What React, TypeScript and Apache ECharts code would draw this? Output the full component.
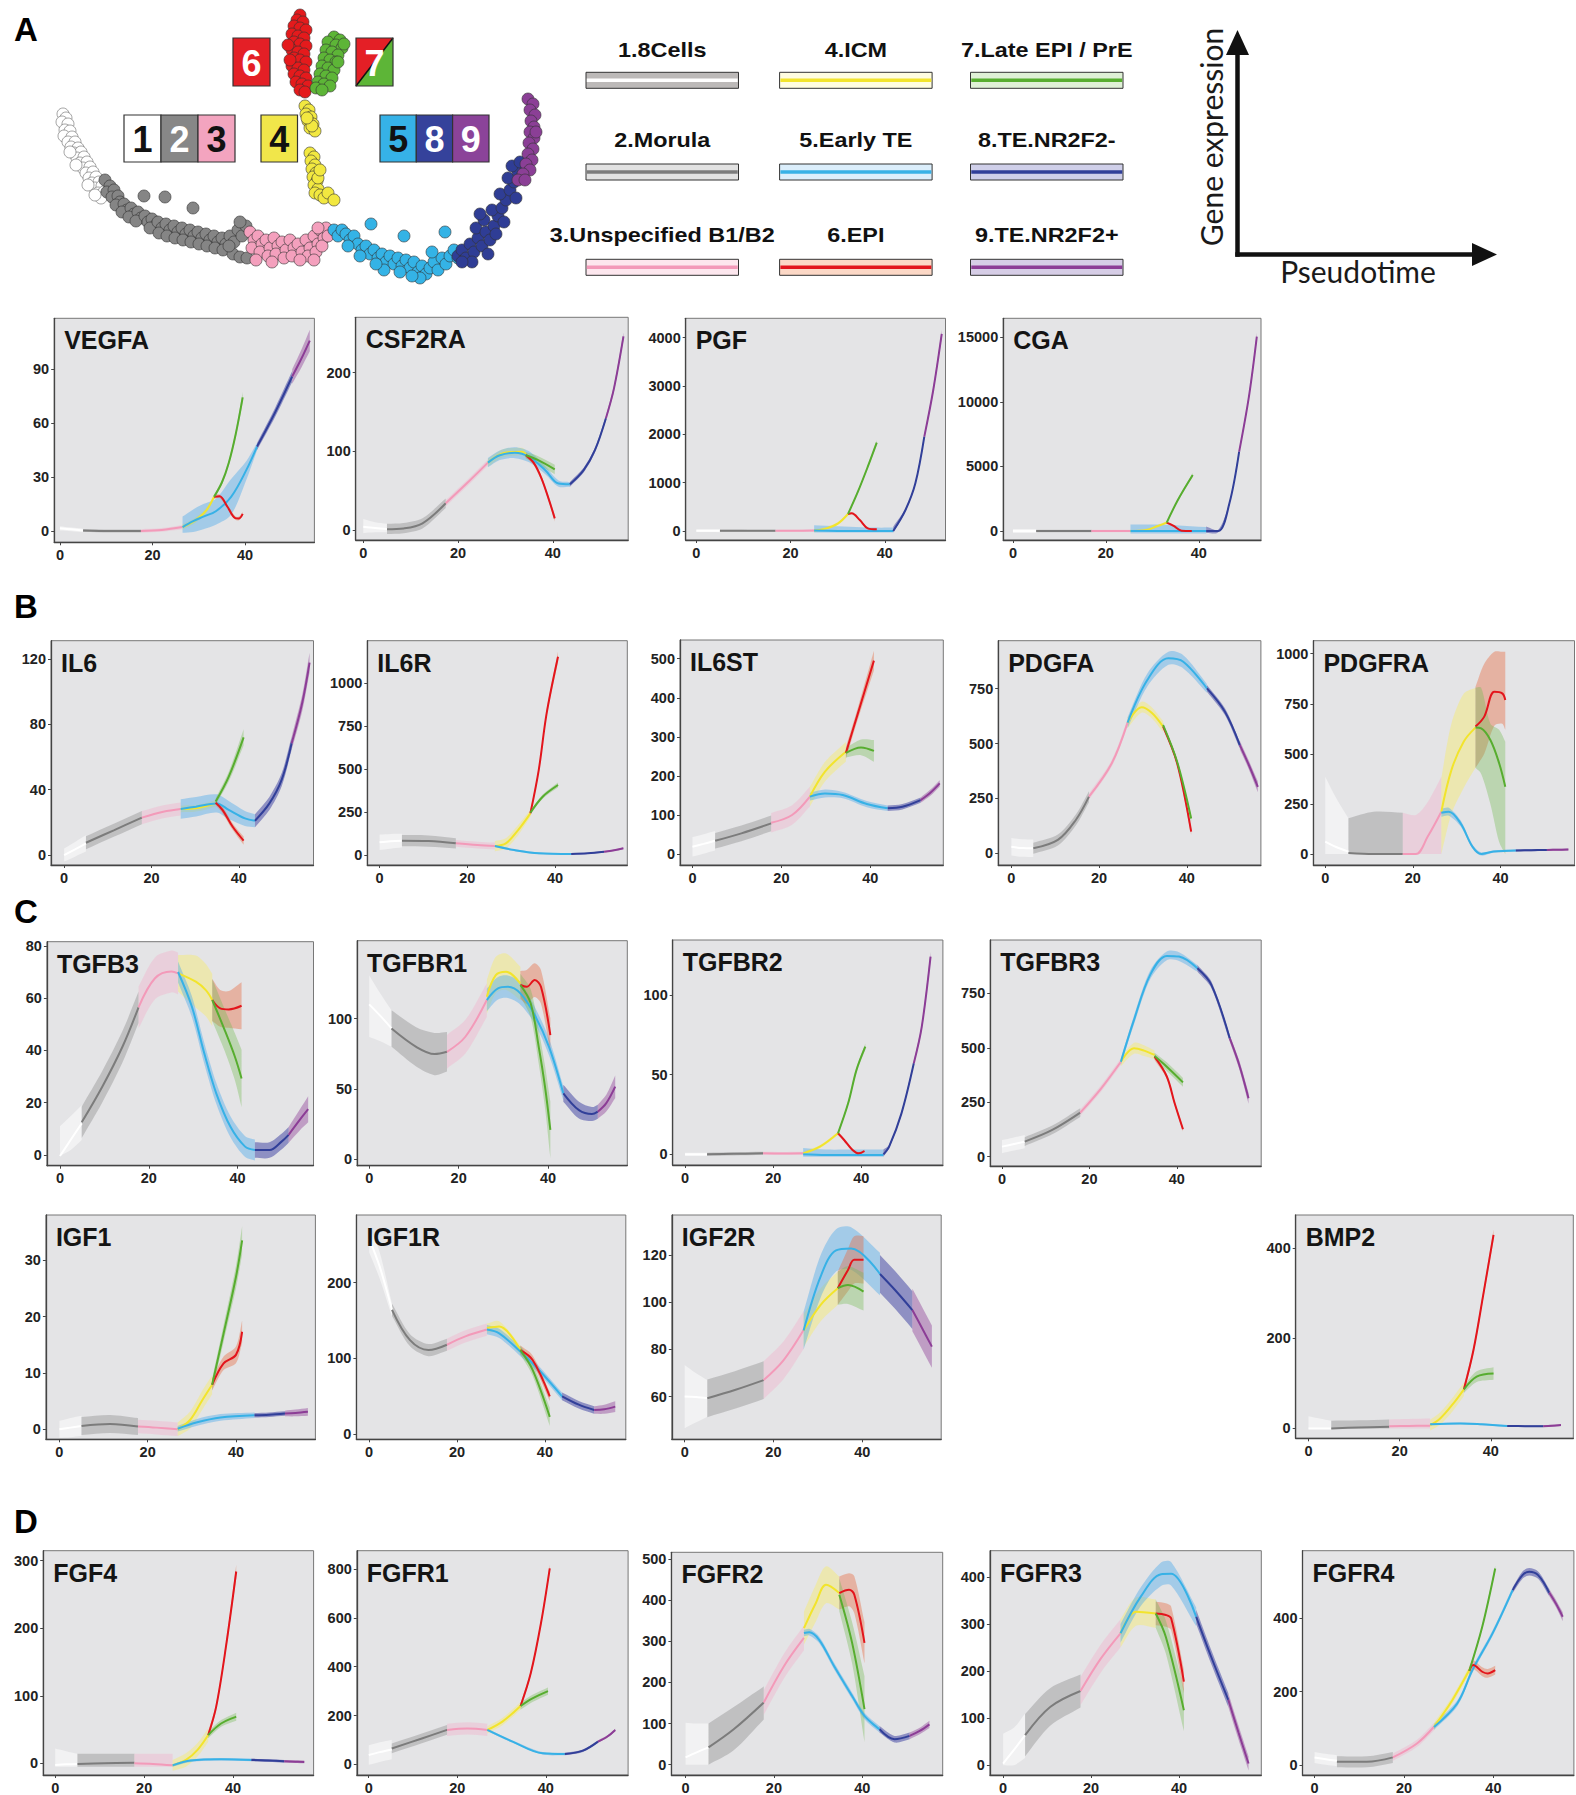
import { useEffect, useRef } from 'react';
import * as echarts from 'echarts';

// point: [pseudotime, fit, halfWidth] or [pseudotime, fit, lower, upper]
type Pt = number[];
type Seg = [number, Pt[]];

const LINEAGES = ['1.8Cells', '2.Morula', '3.Unspecified B1/B2', '4.ICM', '5.Early TE', '6.EPI', '7.Late EPI / PrE', '8.TE.NR2F2-', '9.TE.NR2F2+'];
const X_TICKS = [0, 20, 40];

// ---------------- gene data ----------------
const VEGFA_Y = [0, 30, 60, 90];
const VEGFA: Seg[] = [
  [1, [[0, 1.5, 1.2], [2.5, 0.9, 1], [5, 0.3, 1]]],
  [2, [[5, 0.3, 0.8], [11, 0, 0.8], [17.5, 0, 0.8]]],
  [3, [[17.5, 0, 1], [22, 0.6, 1], [26.5, 2.2, 1.2]]],
  [4, [[26.5, 2.2, 1.5], [29, 5.5, 1.5], [31.5, 11, 1.5], [33.3, 19, 1.5]]],
  [5, [[26.5, 2.2, -1, 8], [28.8, 5.5, -0.5, 12], [31, 8, 1, 15], [33.7, 11, 3.5, 18], [37, 19, 9, 29], [40.3, 34, 28.5, 39], [42.6, 47, 45, 49]]],
  [6, [[33.3, 19, 1], [34.5, 19.3, 1], [36.2, 13.5, 1], [37.9, 7.2, 1], [38.7, 7, 1], [39.5, 9.5, 1]]],
  [7, [[33.3, 19, 1], [35, 27, 1.2], [36.5, 38, 1.5], [38, 54, 2], [39.5, 74.4, 3]]],
  [8, [[42.6, 47, 2], [46.5, 66, 2.5], [50.2, 86, 3]]],
  [9, [[50.2, 86, 4], [52.2, 96, 5], [54, 106, 6]]],
];

const CSF2RA_Y = [0, 100, 200];
const CSF2RA: Seg[] = [
  [1, [[0, 4.2, -4, 14], [2.5, 2.5, -3, 10], [5, 1.3, -3, 8]]],
  [2, [[5, 1, -5, 8], [8.5, 2, -4, 9], [12.5, 8.5, 2, 15], [17.4, 34, 28, 40]]],
  [3, [[17.4, 34, 4], [21.8, 59, 4], [26.3, 85.6, 4]]],
  [4, [[26.3, 85.6, 5], [29.5, 97.5, 5], [33.5, 99.6, 5], [34.3, 96.6, 5]]],
  [5, [[26.3, 85.6, 6], [28.8, 95, 6], [32, 98.3, 7], [35, 93, 7], [38.4, 76, 5], [41.2, 59, 4], [43.6, 58, 3]]],
  [6, [[34.3, 95, 3], [36, 85, 3], [37.6, 65.7, 3], [39.2, 38, 3], [40.4, 14.8, 4]]],
  [7, [[34.3, 95, 4], [36.8, 89, 5], [40.4, 77, 6]]],
  [8, [[43.6, 58, 3], [46.5, 76, 3], [48.9, 101.7, 3], [51.2, 142, 3]]],
  [9, [[51.2, 142, 3], [52.9, 180, 4], [54.9, 246, 5]]],
];

const PGF_Y = [0, 1000, 2000, 3000, 4000];
const PGF: Seg[] = [
  [1, [[0, 7, 30], [5, 5, 30]]],
  [2, [[5, 5, 20], [11, 3, 20], [16.8, 3, 20]]],
  [3, [[16.8, 3, 20], [21, 5, 20], [25, 10, 25]]],
  [4, [[25, 10, 30], [27.6, 55, 30], [30.1, 159, 30], [32.2, 352, 30]]],
  [5, [[25, 10, -30, 120], [30, 2, -30, 100], [35, 0, -30, 80], [38, 0, -30, 70], [41.8, 0, -30, 70]]],
  [6, [[32.2, 352, 20], [33, 365, 20], [34.7, 228, 20], [36.4, 55, 20], [38.3, 34, 20]]],
  [7, [[32.2, 352, 20], [34.3, 814, 30], [36.4, 1331, 40], [38.3, 1828, 50]]],
  [8, [[41.8, 0, -30, 90], [44.4, 434, 30], [46.5, 986, 30], [48.4, 1952, 40]]],
  [9, [[48.4, 1952, 40], [50.3, 2917, 60], [52.1, 4076, 80]]],
];

const CGA_Y = [0, 5000, 10000, 15000];
const CGA: Seg[] = [
  [1, [[0, 0, 150], [5, 0, 150]]],
  [2, [[5, 0, 100], [11, 0, 100], [16.9, 0, 100]]],
  [3, [[16.9, 0, 100], [21, 0, 100], [25.3, 0, 100]]],
  [4, [[25.3, 0, 100], [28.7, 78, 100], [31.2, 388, 100], [33.1, 646, 100]]],
  [5, [[25.3, 0, -200, 500], [30, 0, -200, 500], [35, 0, -200, 450], [41.6, 0, -200, 300]]],
  [6, [[33.1, 646, 80], [34.6, 388, 80], [36.3, 26, 60], [38.5, 0, 50]]],
  [7, [[33.1, 646, 80], [35.5, 2403, 100], [38.7, 4341, 150]]],
  [8, [[41.6, 0, -150, 350], [44.2, 0, 100], [46.6, 2145, 100], [48.7, 6150, 150]]],
  [9, [[48.7, 6150, 150], [50.8, 10413, 200], [52.5, 15064, 300]]],
];

const IL6_Y = [0, 40, 80, 120];
const IL6: Seg[] = [
  [1, [[0, 0, 4], [2.5, 3.5, 4.5], [5, 7.1, 5]]],
  [2, [[5, 7.5, 4], [11.5, 15.3, 4], [17.8, 22.9, 4]]],
  [3, [[17.8, 22.9, 4], [22.7, 26.5, 4], [26.7, 28.2, 4]]],
  [4, [[26.7, 28.2, 2], [30.2, 28.6, 2], [34.7, 31.6, 2]]],
  [5, [[26.7, 28.2, 6], [30.2, 29.6, 6], [34.9, 31.6, 5.6], [37.7, 27.6, 5.5], [41.4, 22.4, 4.6], [43.7, 21, 4]]],
  [6, [[34.7, 32, 1.5], [36.3, 27.5, 2], [38.6, 17.3, 2], [41.1, 8.8, 2.5]]],
  [7, [[34.7, 32.7, 2], [37.7, 48, 3], [41.1, 72, 5]]],
  [8, [[43.7, 21, 4], [47, 31.6, 4], [49.8, 46, 4], [52.1, 68.4, 4]]],
  [9, [[52.1, 68.4, 4], [54.5, 92.9, 5], [56.2, 117.8, 6]]],
];

const IL6R_Y = [0, 250, 500, 750, 1000];
const IL6R: Seg[] = [
  [1, [[0, 74, 45], [2.5, 80, 43], [5.1, 83.5, 40]]],
  [2, [[5.1, 83.5, 33], [11.2, 81.5, 33], [17.4, 68, 30]]],
  [3, [[17.4, 68, 20], [22.3, 58, 20], [26.3, 52.4, 20]]],
  [4, [[26.3, 52.4, 30], [28.8, 68, 30], [31.6, 145.6, 30], [34.4, 243, 20]]],
  [5, [[26.3, 52.4, 6], [30.7, 29, 6], [36.3, 10, 5], [43.7, 6, 4]]],
  [6, [[34.4, 243, 15], [36.3, 495, 15], [38.1, 825, 20], [40.7, 1155, 30]]],
  [7, [[34.4, 247, 10], [37.2, 340, 12], [40.7, 408, 15]]],
  [8, [[43.7, 6, 4], [47.5, 10, 4], [51.2, 19, 4]]],
  [9, [[51.2, 19, 4], [53.5, 28, 4], [55.6, 39, 5]]],
];

const IL6ST_Y = [0, 100, 200, 300, 400, 500];
const IL6ST: Seg[] = [
  [1, [[0, 18.8, 25], [2.5, 26, 25], [5.1, 34, 25]]],
  [2, [[5.1, 34, 20], [11, 53, 20], [17.7, 78.5, 20]]],
  [3, [[17.7, 80, 25], [22.4, 100, 25], [26.4, 147, 25]]],
  [4, [[26.4, 147, 25], [29.8, 211, 25], [34.5, 262, 25]]],
  [5, [[26.4, 147, 10], [29.8, 155, 10], [33.8, 151, 8], [39.2, 128, 8], [43.9, 117, 7]]],
  [6, [[34.5, 259, 15], [37.2, 360, 15], [40.8, 495, 25]]],
  [7, [[34.5, 259, 12], [37.9, 273, 20], [40.8, 264, 28]]],
  [8, [[43.9, 117, 7], [47.2, 121, 7], [51.3, 138, 7]]],
  [9, [[51.3, 138, 7], [53.5, 157, 8], [55.6, 181, 8]]],
];

const PDGFA_Y = [0, 250, 500, 750];
const PDGFA: Seg[] = [
  [1, [[0, 30, 40], [2.5, 24, 40], [5, 23, 40]]],
  [2, [[5, 23, 25], [10.6, 61, 25], [14.7, 152, 25], [17.7, 258, 25]]],
  [3, [[17.7, 258, 15], [22.9, 410, 15], [26.5, 595, 15]]],
  [4, [[26.5, 595, 25], [29.7, 665, 25], [32, 640, 25], [34.6, 577, 25]]],
  [5, [[26.5, 595, 25], [31, 789, 30], [35.8, 888, 30], [39.2, 872, 30], [44.6, 751, 20]]],
  [6, [[34.6, 577, 10], [37.8, 410, 10], [41, 99, 15]]],
  [7, [[34.6, 584, 10], [37.8, 417, 10], [41, 159, 15]]],
  [8, [[44.6, 751, 15], [48.7, 645, 15], [52.1, 493, 15]]],
  [9, [[52.1, 493, 20], [54.2, 400, 20], [56.2, 303, 25]]],
];

const PDGFRA_Y = [0, 250, 500, 750, 1000];
const PDGFRA: Seg[] = [
  [1, [[0, 62, 0, 386], [2.5, 35, 0, 280], [5.3, 12, 0, 178]]],
  [2, [[5.3, 5, 0, 178], [11, 0, 0, 211], [17.7, 0, 0, 206]]],
  [3, [[17.7, 0, 0, 206], [20.7, 0, 0, 195], [23.4, 87, 0, 260], [26.5, 211, 0, 386]]],
  [4, [[26.5, 211, 0, 380], [28.8, 419, 200, 650], [31.6, 561, 330, 800], [34.3, 631, 430, 830]]],
  [5, [[26.5, 206, 20], [28.2, 211, 20], [30.9, 153, 15], [33.6, 37, 10], [35.6, 0, 8], [38.4, 12, 6], [43.5, 17, 5]]],
  [6, [[34.3, 636, 430, 835], [36.3, 686, 500, 950], [38.6, 810, 640, 1010], [40.4, 802, 650, 1010], [41.1, 769, 620, 1010]]],
  [7, [[34.3, 631, 430, 830], [35.6, 627, 400, 830], [37.7, 569, 250, 650], [39.7, 453, 60, 620], [41.1, 336, 0, 560]]],
  [8, [[43.5, 17, 5], [47, 19, 5], [50.6, 20, 5]]],
  [9, [[50.6, 20, 5], [53, 21, 5], [55.5, 23, 5]]],
];

const TGFB3_Y = [0, 20, 40, 60, 80];
const TGFB3: Seg[] = [
  [1, [[0, -0.4, -0.4, 11], [2.5, 6, 2, 15], [4.9, 12.1, 5.7, 19]]],
  [2, [[4.9, 12.5, 6], [9.5, 26, 6], [14.1, 41.5, 6], [17.7, 56.5, 6]]],
  [3, [[17.7, 56.5, 8], [21.4, 67.6, 8], [25.1, 70.2, 8], [26.6, 69.5, 8]]],
  [4, [[26.6, 69.5, 7], [30.6, 66.3, 10], [32.9, 63, 10], [34.3, 59.3, 10]]],
  [5, [[26.6, 70, 4], [29.7, 56.8, 4], [32.5, 38.9, 4], [35.2, 23.6, 4], [38.4, 10.8, 4], [41.7, 3.2, 4], [43.9, 1.9, 4]]],
  [6, [[34.3, 59.3, 8], [36.1, 56.1, 7], [38, 55.7, 7], [40.9, 57.1, 9]]],
  [7, [[34.3, 59.3, 8], [37.1, 47.8, 8], [39.4, 37.6, 9], [40.9, 29.3, 11]]],
  [8, [[43.9, 1.9, 3], [47.2, 1.9, 3], [49.9, 5.1, 3], [51.5, 7.7, 3]]],
  [9, [[51.5, 7.7, 3], [54, 13.4, 4], [55.9, 17.5, 5]]],
];

const TGFBR1_Y = [0, 50, 100];
const TGFBR1: Seg[] = [
  [1, [[0, 110.2, 87, 131], [2.5, 102, 84, 118], [5, 93.1, 80, 106]]],
  [2, [[5, 93, 13], [10.5, 80, 14], [14.6, 74.9, 15], [17.4, 76.5, 14]]],
  [3, [[17.4, 76.5, 12], [21.5, 87.2, 12], [26.3, 113.3, 12]]],
  [4, [[26.3, 115.6, 12], [28.3, 131, 13], [30.6, 133.4, 13], [33.8, 125, 12]]],
  [5, [[26.3, 113.3, 8], [28.8, 121.6, 8], [31, 122.7, 8], [33.8, 118, 8], [37, 102.6, 6], [40.2, 80, 6], [43.4, 47, 5]]],
  [6, [[33.8, 124, 10], [35.2, 122.7, 12], [37, 127.5, 12], [38.4, 122.7, 12], [40.5, 88.4, 12]]],
  [7, [[33.8, 124, 8], [36.1, 111, 10], [37.9, 80, 12], [39.3, 51.7, 15], [40.5, 20.9, 20]]],
  [8, [[43.4, 47, 6], [46.9, 35, 6], [49.8, 32.2, 5], [51.1, 33.9, 5]]],
  [9, [[51.1, 33.9, 5], [53, 40, 6], [55, 51.7, 8]]],
];

const TGFBR2_Y = [0, 50, 100];
const TGFBR2: Seg[] = [
  [1, [[0, 0, 1], [5, 0, 1]]],
  [2, [[5, 0, 1], [11, 0.3, 1], [17.7, 0.6, 1]]],
  [3, [[17.7, 0.6, 1], [22, 0.5, 1], [26.8, 0.6, 1]]],
  [4, [[26.8, 0.6, 1], [30.6, 4.8, 1], [34.7, 13.2, 1]]],
  [5, [[26.8, 0, -1.5, 4], [32, -0.5, -1.5, 3], [38, -0.5, -1.5, 3], [45, -0.5, -1.5, 3]]],
  [6, [[34.7, 13.2, 0.8], [36.1, 9, 0.8], [38, 2.7, 0.8], [39.4, 0.6, 0.8], [40.7, 2.1, 0.8]]],
  [7, [[34.7, 13.2, 1], [37, 32, 1.2], [38.9, 53, 1.5], [40.9, 67.6, 2]]],
  [8, [[45, 0, -1.5, 3], [46.3, 4.8, 1], [49.1, 25.7, 1], [51.9, 57.1, 1]]],
  [9, [[51.9, 57.1, 1.5], [53.7, 80, 2], [55.7, 124, 3]]],
];

const TGFBR3_Y = [0, 250, 500, 750];
const TGFBR3: Seg[] = [
  [1, [[0, 46, 30], [2.5, 57, 30], [5.2, 69, 30]]],
  [2, [[5.2, 69, 20], [11.5, 122.5, 20], [17.9, 202, 20]]],
  [3, [[17.9, 202, 15], [22.7, 314, 15], [27.2, 436, 15]]],
  [4, [[27.2, 436, 20], [30.2, 498, 25], [32.5, 487, 25], [34.9, 467, 20]]],
  [5, [[27.2, 436, 15], [30.2, 628, 20], [33.9, 835, 20], [37.7, 922, 20], [40.5, 919, 20], [44.7, 865, 15]]],
  [6, [[34.9, 459, 15], [37.7, 368, 10], [39.5, 245, 10], [41.4, 126, 10]]],
  [7, [[34.9, 462, 15], [37.7, 413, 20], [41.4, 341, 20]]],
  [8, [[44.7, 865, 15], [47.9, 789, 15], [52.1, 544, 15]]],
  [9, [[52.1, 544, 15], [54.3, 420, 20], [56.4, 268, 25]]],
];

const IGF1_Y = [0, 10, 20, 30];
const IGF1: Seg[] = [
  [1, [[0, 0, 1.5], [2.5, 0.3, 1.7], [5, 0.6, 1.8]]],
  [2, [[5, 0.6, 1.6], [11.5, 0.95, 1.6], [17.8, 0.5, 1.5]]],
  [3, [[17.8, 0.5, 1.2], [22, 0.3, 1.2], [26.8, 0, 1.2]]],
  [4, [[26.8, 0, 1.2], [29.6, 1.65, 1.5], [32.4, 5.2, 1.7], [34.6, 7.9, 1.7]]],
  [5, [[26.8, 0.1, 0.5], [31, 1.2, 0.6], [36.5, 2.1, 0.6], [44.2, 2.5, 0.5]]],
  [6, [[34.6, 7.9, 1], [37.2, 11.7, 1.2], [40, 13.2, 1.5], [41.4, 17.3, 2]]],
  [7, [[34.6, 7.9, 1], [37.2, 17, 1.5], [40, 27, 2], [41.4, 33.5, 2.5]]],
  [8, [[44.2, 2.5, 0.4], [47.5, 2.6, 0.4], [51.1, 2.8, 0.4]]],
  [9, [[51.1, 2.8, 0.5], [53.5, 2.9, 0.6], [56.3, 3.1, 0.7]]],
];

const IGF1R_Y = [0, 100, 200];
const IGF1R: Seg[] = [
  [1, [[0, 258, 240, 275], [2.4, 221, 205, 240], [5.2, 164, 155, 172]]],
  [2, [[5.2, 164, 8], [9.3, 124, 8], [13.5, 111, 8], [17.7, 118, 8]]],
  [3, [[17.7, 118, 8], [21.9, 129, 8], [26.8, 138, 8]]],
  [4, [[26.8, 140, 6], [29.6, 142, 7], [34.4, 111, 6]]],
  [5, [[26.8, 138, 6], [29.6, 133, 6], [34.4, 109, 6], [38.6, 85, 5], [43.9, 50, 5]]],
  [6, [[34.4, 111, 6], [37.2, 98, 6], [41.1, 50, 6]]],
  [7, [[34.4, 111, 6], [37.2, 85, 8], [41.1, 23, 12]]],
  [8, [[43.9, 50, 5], [47.7, 39, 5], [51.2, 32, 5]]],
  [9, [[51.2, 32, 5], [53.5, 33, 6], [56, 36.5, 7]]],
];

const IGF2R_Y = [60, 80, 100, 120];
const IGF2R: Seg[] = [
  [1, [[0, 60, 46.6, 73.4], [2.5, 59.8, 49, 70], [5.1, 59.3, 51.5, 67]]],
  [2, [[5.1, 59.3, 8], [11.3, 62.8, 8], [17.8, 67, 8]]],
  [3, [[17.8, 67, 8], [22.3, 75.5, 8], [26.8, 88.2, 8]]],
  [4, [[26.8, 88, 7], [30.6, 98.8, 7], [34.5, 105.9, 7]]],
  [5, [[26.8, 88, 8], [30.6, 110.8, 9], [34.1, 122, 9], [37.5, 122.8, 9], [44, 112, 9]]],
  [6, [[34.5, 106, 7], [36.8, 113.7, 9], [38.2, 118, 10], [40.3, 118, 10]]],
  [7, [[34.5, 106, 7], [36.8, 107.3, 8], [40.3, 104.5, 8]]],
  [8, [[44, 112, 8], [47.5, 105, 8], [51.3, 96.7, 8]]],
  [9, [[51.3, 96.7, 9], [53.5, 89, 9], [55.7, 81.2, 9]]],
];

const BMP2_Y = [0, 200, 400];
const BMP2: Seg[] = [
  [1, [[0, 0, 0, 27], [2.5, 0, 0, 22], [5, 0, 0, 17]]],
  [2, [[5, 0, 0, 17], [11, 2, 0, 18], [17.7, 3.7, 0, 20]]],
  [3, [[17.7, 5, 0, 20], [22, 5.5, 0, 21], [26.7, 6, 0, 22]]],
  [4, [[26.7, 7.4, 12], [28.9, 22, 14], [31.8, 55.5, 15], [34.1, 86.7, 15]]],
  [5, [[26.7, 9, 2], [33.3, 11, 2], [38, 9, 2], [43.6, 5.2, 2]]],
  [6, [[34.1, 86.7, 8], [36.2, 174, 8], [38.4, 300, 9], [40.6, 430, 12]]],
  [7, [[34.1, 86.7, 8], [36.9, 115, 12], [40.6, 122, 14]]],
  [8, [[43.6, 5.2, 2], [47.5, 5, 2], [51.5, 5, 2]]],
  [9, [[51.5, 5, 2], [53.5, 6, 2], [55.4, 7.4, 2]]],
];

const FGF4_Y = [0, 100, 200, 300];
const FGF4: Seg[] = [
  [1, [[0, -2.5, -5, 22], [2.5, -1.5, -5, 18], [5, -1, -5, 14]]],
  [2, [[5, -1, -5, 14], [11, 0, -5, 14], [17.8, 1, -5, 14]]],
  [3, [[17.8, 0, -5, 14], [22, -1, -5, 14], [26.4, -3, -5, 14]]],
  [4, [[26.4, -3, 8], [29.4, 5, 10], [32, 20, 10], [34.4, 42, 10]]],
  [5, [[26.4, -3, 2], [30.5, 4, 2], [37.3, 6, 2], [44.1, 5, 2]]],
  [6, [[34.4, 42, 5], [36.2, 84, 5], [38.4, 173, 6], [40.7, 284, 10]]],
  [7, [[34.4, 42, 5], [37.3, 59, 5], [40.7, 69, 6]]],
  [8, [[44.1, 5, 2], [48, 4, 2], [51.5, 3, 2]]],
  [9, [[51.5, 3, 2], [54, 2.5, 2], [56, 2, 2]]],
];

const FGFR1_Y = [0, 200, 400, 600, 800];
const FGFR1: Seg[] = [
  [1, [[0, 38, 40], [2.5, 50, 40], [5.2, 61, 40]]],
  [2, [[5.2, 65, 20], [12, 106, 20], [17.7, 141, 20]]],
  [3, [[17.7, 141, 25], [22.3, 147, 25], [26.8, 141, 25]]],
  [4, [[26.8, 141, 15], [30.2, 175, 15], [34.3, 239, 15]]],
  [5, [[26.8, 141, 5], [32.5, 93, 5], [39.3, 45, 5], [44.3, 42, 5]]],
  [6, [[34.3, 239, 10], [36.6, 373, 10], [38.9, 577, 12], [40.9, 803, 15]]],
  [7, [[34.3, 239, 15], [37, 270, 15], [40.5, 300, 15]]],
  [8, [[44.3, 42, 5], [48.4, 56, 5], [51.8, 93, 5]]],
  [9, [[51.8, 93, 5], [54, 115, 5], [55.7, 141, 5]]],
];

const FGFR2_Y = [0, 100, 200, 300, 400, 500];
const FGFR2: Seg[] = [
  [1, [[0, 17.7, 0, 102], [2.5, 30, 0, 100], [5.2, 42, 0, 100]]],
  [2, [[5.2, 42, 0, 100], [10.9, 86, 35, 140], [17.7, 151, 110, 190]]],
  [3, [[17.7, 151, 30], [22.3, 240, 30], [26.8, 308, 30]]],
  [4, [[26.8, 332, 40], [29.5, 393, 45], [31.8, 437, 45], [34.8, 417, 40]]],
  [5, [[26.8, 320, 8], [28, 322, 8], [30.2, 304, 8], [33.6, 240, 8], [37.7, 167, 8], [40.5, 118.5, 8], [43.9, 86, 8]]],
  [6, [[34.8, 417, 40], [37, 425, 40], [38.2, 413, 45], [40.5, 296, 50]]],
  [7, [[34.8, 413, 40], [37.7, 296, 50], [40.5, 135, 80]]],
  [8, [[43.9, 86, 8], [47.3, 62, 8], [50.7, 70, 8]]],
  [9, [[50.7, 70, 8], [53, 82, 8], [55.2, 98, 9]]],
];

const FGFR3_Y = [0, 100, 200, 300, 400];
const FGFR3: Seg[] = [
  [1, [[0, 3.5, 0, 67], [2.5, 33, 0, 80], [5, 64, 15, 110]]],
  [2, [[5, 64, 45], [10.7, 124, 40], [17.6, 158, 35]]],
  [3, [[17.6, 158, 30], [22.2, 227, 30], [26.7, 281, 30]]],
  [4, [[26.7, 281, 30], [30.2, 327, 30], [34.7, 323, 30]]],
  [5, [[26.7, 281, 20], [31.3, 359, 20], [35.9, 407, 25], [38.2, 408, 25], [43.9, 316, 20]]],
  [6, [[34.7, 323, 25], [37, 320, 25], [38.2, 313, 25], [41.1, 178, 25]]],
  [7, [[34.7, 323, 30], [37, 273, 35], [41.1, 117, 45]]],
  [8, [[43.9, 316, 15], [47.3, 231, 15], [51.2, 139, 15]]],
  [9, [[51.2, 139, 15], [53.5, 70, 15], [55.8, 3.5, 15]]],
];

const FGFR4_Y = [0, 200, 400];
const FGFR4: Seg[] = [
  [1, [[0, 21, 15], [2.5, 16, 15], [5, 12, 15]]],
  [2, [[5, 9, 15], [11.7, 9, 15], [17.5, 21, 15]]],
  [3, [[17.5, 21, 10], [22.9, 59, 10], [26.7, 104.5, 10]]],
  [4, [[26.7, 104.5, 10], [30.8, 177, 10], [34.6, 259, 10]]],
  [5, [[26.7, 104, 8], [31.9, 168, 8], [35.3, 259, 8], [39.8, 359, 8], [44.3, 477, 8]]],
  [6, [[34.6, 257, 12], [35.5, 273, 12], [37.5, 254.5, 12], [38.7, 250, 12], [40.4, 259, 12]]],
  [7, [[34.6, 257, 5], [37.5, 377, 5], [40.4, 536, 8]]],
  [8, [[44.3, 477, 8], [46.5, 518, 10], [48, 527, 10], [50, 518, 10], [52.5, 470, 10]]],
  [9, [[52.5, 470, 10], [54, 440, 10], [55.5, 404.5, 12]]],
];

// ---------------- cell embedding (panel A), screen-like coordinates ----------------
const CELLS_1 = [[63, 114], [66, 118], [62, 122], [68, 124], [65, 130], [70, 131], [64, 136], [72, 137], [68, 142], [75, 142], [71, 147], [78, 148], [74, 153], [81, 152], [77, 158], [84, 157], [80, 163], [87, 162], [83, 168], [90, 167], [86, 173], [93, 172], [89, 178], [96, 177], [92, 183], [99, 182], [95, 188], [102, 186], [98, 193], [104, 192], [101, 198], [76, 165], [70, 152], [88, 185], [95, 195]];
const CELLS_2 = [[105, 180], [110, 186], [107, 192], [114, 190], [112, 197], [118, 196], [120, 202], [116, 205], [124, 204], [127, 210], [122, 212], [131, 208], [134, 214], [129, 217], [138, 212], [141, 218], [136, 221], [145, 216], [148, 222], [144, 196], [152, 219], [155, 226], [150, 228], [158, 222], [162, 228], [159, 233], [166, 224], [165, 197], [170, 230], [167, 236], [174, 226], [178, 232], [175, 238], [182, 228], [186, 234], [183, 240], [190, 230], [194, 236], [191, 242], [193, 208], [198, 232], [202, 238], [199, 244], [206, 234], [210, 240], [207, 246], [214, 236], [218, 242], [215, 248], [222, 238], [226, 244], [223, 250], [230, 236], [234, 242], [238, 230], [242, 236], [246, 226], [240, 222], [233, 254], [240, 257], [247, 258], [229, 246]];
const CELLS_3 = [[250, 232], [254, 240], [252, 248], [258, 236], [262, 244], [260, 252], [266, 240], [270, 248], [268, 256], [274, 238], [278, 246], [276, 254], [282, 242], [286, 250], [284, 258], [290, 240], [294, 248], [292, 256], [298, 244], [302, 252], [306, 240], [310, 248], [308, 256], [314, 236], [318, 244], [316, 252], [320, 230], [324, 238], [322, 246], [326, 228], [328, 236], [318, 228], [256, 260], [272, 262], [300, 260], [314, 260]];
const CELLS_4 = [[305, 106], [309, 110], [306, 114], [311, 117], [308, 121], [313, 124], [310, 128], [315, 131], [312, 126], [307, 118], [310, 153], [314, 157], [311, 161], [315, 165], [312, 169], [316, 173], [313, 177], [317, 181], [314, 185], [318, 189], [315, 193], [320, 195], [324, 198], [328, 193], [334, 200], [318, 178], [320, 170]];
const CELLS_5 = [[334, 230], [338, 236], [342, 230], [346, 234], [350, 240], [354, 236], [358, 244], [362, 250], [366, 246], [370, 254], [374, 250], [371, 224], [378, 258], [382, 254], [386, 262], [390, 256], [394, 264], [398, 258], [402, 266], [404, 236], [406, 260], [410, 268], [414, 262], [418, 272], [422, 266], [426, 274], [420, 278], [430, 268], [434, 262], [438, 270], [442, 258], [446, 264], [445, 232], [450, 256], [454, 250], [458, 258], [400, 272], [412, 276], [384, 270], [376, 264], [360, 256], [348, 246], [432, 252]];
const CELLS_6 = [[300, 15], [297, 20], [303, 22], [294, 26], [300, 28], [306, 30], [292, 34], [298, 36], [304, 38], [294, 42], [300, 44], [306, 46], [292, 50], [298, 52], [304, 54], [294, 58], [300, 60], [306, 62], [292, 66], [298, 68], [304, 70], [294, 74], [300, 76], [306, 78], [296, 82], [302, 84], [308, 86], [300, 90], [305, 92], [290, 60], [288, 45]];
const CELLS_7 = [[334, 37], [340, 40], [328, 42], [336, 45], [342, 48], [326, 50], [332, 52], [338, 55], [324, 58], [330, 60], [336, 62], [322, 66], [328, 68], [334, 70], [320, 74], [326, 76], [332, 78], [318, 82], [324, 84], [330, 86], [316, 88], [322, 90], [338, 62], [344, 44]];
const CELLS_8 = [[458, 256], [462, 250], [466, 258], [470, 244], [474, 252], [478, 238], [482, 246], [476, 228], [486, 232], [490, 240], [484, 220], [494, 226], [498, 216], [492, 210], [502, 208], [506, 200], [500, 194], [510, 190], [514, 182], [508, 178], [518, 172], [512, 166], [520, 162], [504, 222], [496, 234], [488, 254], [472, 262], [462, 262], [516, 198], [480, 214]];
const CELLS_9 = [[528, 99], [533, 104], [530, 110], [535, 115], [531, 121], [534, 127], [530, 132], [534, 138], [529, 143], [533, 149], [528, 154], [532, 160], [526, 164], [530, 170], [523, 174], [518, 180], [525, 180], [536, 132]];
const CELL_GROUPS = [CELLS_1, CELLS_2, CELLS_3, CELLS_4, CELLS_5, CELLS_6, CELLS_7, CELLS_8, CELLS_9];

// ---------------- styles / layout ----------------
const FONT = '"Liberation Sans", Arial, sans-serif';
const LINE_COLORS = ['#ffffff', '#7c7c7c', '#f39ab9', '#f2e42c', '#37b1e6', '#e3151c', '#57ad2f', '#313f99', '#8c3d96'];
const BAND_COLORS = ['rgba(255,255,255,0.5)', 'rgba(110,110,110,0.3)', 'rgba(246,165,195,0.32)', 'rgba(246,236,110,0.45)', 'rgba(75,170,235,0.42)', 'rgba(232,110,70,0.42)', 'rgba(115,185,80,0.36)', 'rgba(55,60,160,0.5)', 'rgba(140,60,150,0.42)'];
const LEGEND_FILL = ['#bcb9b8', '#e2e2e2', '#fde7ee', '#fffde0', '#dbeefb', '#fcd8c6', '#dff0d6', '#cfcfe9', '#d6cde6'];
const CELL_FILL = ['#ffffff', '#858585', '#f4a0bd', '#f2e840', '#34b3e6', '#e41a1c', '#5db537', '#2f3d95', '#8b3f96'];

type Panel = { name: string; data: Seg[]; yt: number[]; l: number; r: number; t: number; b: number; x0: number; x1: number; y0: number; y1: number };
const PANELS: Panel[] = [
  { name: 'VEGFA', data: VEGFA, yt: VEGFA_Y, l: 54.2, r: 314.4, t: 318.3, b: 542.3, x0: -1.24, x1: 55.0, y0: -6.3, y1: 118.4 },
  { name: 'CSF2RA', data: CSF2RA, yt: CSF2RA_Y, l: 355.7, r: 628.2, t: 317.3, b: 540, x0: -1.6, x1: 55.9, y0: -12.7, y1: 270.3 },
  { name: 'PGF', data: PGF, yt: PGF_Y, l: 685.7, r: 945.5, t: 318.3, b: 540, x0: -2.27, x1: 52.9, y0: -186, y1: 4400 },
  { name: 'CGA', data: CGA, yt: CGA_Y, l: 1003.2, r: 1261, t: 318.3, b: 540, x0: -2.1, x1: 53.4, y0: -698, y1: 16486 },
  { name: 'IL6', data: IL6, yt: IL6_Y, l: 51, r: 313.5, t: 640.7, b: 865, x0: -3, x1: 57.1, y0: -6.1, y1: 131.2 },
  { name: 'IL6R', data: IL6R, yt: IL6R_Y, l: 367.3, r: 627.3, t: 640.7, b: 865, x0: -2.8, x1: 56.5, y0: -58, y1: 1248.5 },
  { name: 'IL6ST', data: IL6ST, yt: IL6ST_Y, l: 680, r: 943.3, t: 640, b: 865, x0: -2.8, x1: 56.4, y0: -28, y1: 547.8 },
  { name: 'PDGFA', data: PDGFA, yt: PDGFA_Y, l: 998.2, r: 1260.9, t: 640.7, b: 865, x0: -3, x1: 56.9, y0: -53, y1: 968 },
  { name: 'PDGFRA', data: PDGFRA, yt: PDGFRA_Y, l: 1313.4, r: 1574.5, t: 640.7, b: 865, x0: -2.7, x1: 56.9, y0: -55, y1: 1065 },
  { name: 'TGFB3', data: TGFB3, yt: TGFB3_Y, l: 46.9, r: 313.5, t: 941.7, b: 1165.7, x0: -2.94, x1: 57.1, y0: -4.1, y1: 81.6 },
  { name: 'TGFBR1', data: TGFBR1, yt: TGFBR1_Y, l: 357.1, r: 627.3, t: 940.7, b: 1165.7, x0: -2.7, x1: 57.7, y0: -4.5, y1: 155.5 },
  { name: 'TGFBR2', data: TGFBR2, yt: TGFBR2_Y, l: 672.7, r: 942.9, t: 940, b: 1165, x0: -2.8, x1: 58.5, y0: -6.7, y1: 134.5 },
  { name: 'TGFBR3', data: TGFBR3, yt: TGFBR3_Y, l: 990.2, r: 1261.2, t: 940, b: 1166, x0: -2.7, x1: 59.3, y0: -43, y1: 995 },
  { name: 'IGF1', data: IGF1, yt: IGF1_Y, l: 45.9, r: 315.4, t: 1215, b: 1439.3, x0: -3.06, x1: 58, y0: -1.77, y1: 38 },
  { name: 'IGF1R', data: IGF1R, yt: IGF1R_Y, l: 356.4, r: 625.8, t: 1215, b: 1439.3, x0: -2.9, x1: 58.4, y0: -6.6, y1: 289 },
  { name: 'IGF2R', data: IGF2R, yt: IGF2R_Y, l: 671.8, r: 941.2, t: 1215, b: 1439.3, x0: -2.9, x1: 57.8, y0: 41.9, y1: 137 },
  { name: 'BMP2', data: BMP2, yt: BMP2_Y, l: 1295.7, r: 1573.3, t: 1215, b: 1438.3, x0: -2.8, x1: 58.1, y0: -22, y1: 474 },
  { name: 'FGF4', data: FGF4, yt: FGF4_Y, l: 43.2, r: 313.6, t: 1550.7, b: 1775, x0: -2.7, x1: 58.1, y0: -17.3, y1: 314.8 },
  { name: 'FGFR1', data: FGFR1, yt: FGFR1_Y, l: 356.8, r: 628.1, t: 1550.7, b: 1775, x0: -2.7, x1: 58.6, y0: -43.7, y1: 875 },
  { name: 'FGFR2', data: FGFR2, yt: FGFR2_Y, l: 671.4, r: 942.7, t: 1552.3, b: 1776, x0: -3.2, x1: 58.2, y0: -25, y1: 516 },
  { name: 'FGFR3', data: FGFR3, yt: FGFR3_Y, l: 989.9, r: 1261.3, t: 1550.7, b: 1775, x0: -3, x1: 58.7, y0: -21, y1: 457 },
  { name: 'FGFR4', data: FGFR4, yt: FGFR4_Y, l: 1302.5, r: 1573.9, t: 1550.7, b: 1775, x0: -2.7, x1: 58, y0: -27, y1: 584.5 },
];

function bandOf(p: Pt): [number, number] {
  return p.length >= 4 ? [p[2], p[3]] : [p[1] - p[2], p[1] + p[2]];
}

// repeat the first and last vertex so the smoothed outline keeps straight, square ends
function pinEnds(a: number[][]): number[][] {
  return [a[0], ...a, a[a.length - 1]];
}

function buildOption() {
  const grid: any[] = [];
  const xAxis: any[] = [];
  const yAxis: any[] = [];
  const series: any[] = [];
  const g: any[] = [];
  const labelStyle = { fontSize: 14.5, fontWeight: 'bold', color: '#222', fontFamily: FONT, formatter: (v: number) => String(v) };

  PANELS.forEach((p, i) => {
    grid.push({ left: p.l, top: p.t, width: p.r - p.l, height: p.b - p.t, show: true, backgroundColor: '#e4e4e6', borderColor: '#777', borderWidth: 1, containLabel: false });
    xAxis.push({
      type: 'value', gridIndex: i, min: p.x0, max: p.x1,
      axisLine: { show: true, onZero: false, lineStyle: { color: '#444', width: 1.3 } },
      axisTick: { show: true, length: 3, customValues: X_TICKS, lineStyle: { color: '#444' } },
      axisLabel: { show: true, margin: 5, customValues: X_TICKS, ...labelStyle },
      splitLine: { show: false },
    });
    yAxis.push({
      type: 'value', gridIndex: i, min: p.y0, max: p.y1,
      axisLine: { show: true, onZero: false, lineStyle: { color: '#444', width: 1.3 } },
      axisTick: { show: true, length: 3, customValues: p.yt, lineStyle: { color: '#444' } },
      axisLabel: { show: true, margin: 5, customValues: p.yt, ...labelStyle },
      splitLine: { show: false },
    });
    // confidence bands: one polygon per lineage segment, positioned through the axes
    p.data.forEach(([lin, pts]) => {
      const rows = pts.map((q) => { const [lo, hi] = bandOf(q); return [q[0], lo, hi]; });
      const fill = BAND_COLORS[lin - 1];
      series.push({
        type: 'custom', name: LINEAGES[lin - 1] + ' CI', xAxisIndex: i, yAxisIndex: i, silent: true, z: 1, clip: true,
        data: rows, encode: { x: 0, y: [1, 2] },
        renderItem: (params: any, api: any) => {
          if (params.dataIndex !== 0) return null;
          const up = rows.map((r) => api.coord([r[0], r[2]]));
          const dn = rows.map((r) => api.coord([r[0], r[1]])).reverse();
          return { type: 'polygon', shape: { points: pinEnds(up).concat(pinEnds(dn)), smooth: 0.3 }, style: { fill, stroke: 'none' } };
        },
      });
    });
    p.data.forEach(([lin, pts]) => {
      series.push({ type: 'line', name: LINEAGES[lin - 1], xAxisIndex: i, yAxisIndex: i, smooth: 0.35, symbol: 'none', silent: true, z: 3, data: pts.map((q) => [q[0], q[1]]), lineStyle: { color: LINE_COLORS[lin - 1], width: 2 } });
    });
    g.push({ type: 'text', x: p.l + 10, y: p.t + 22, z: 100, style: { text: p.name, fontSize: 25, fontWeight: 'bold', fontFamily: FONT, fill: '#141414', align: 'left', verticalAlign: 'middle' } });
  });

  // cell embedding
  const si = PANELS.length;
  grid.push({ left: 0, top: 0, width: 560, height: 290, show: false });
  xAxis.push({ type: 'value', gridIndex: si, min: 0, max: 560, show: false });
  yAxis.push({ type: 'value', gridIndex: si, min: 0, max: 290, inverse: true, show: false });
  CELL_GROUPS.forEach((pts, k) => {
    series.push({ type: 'scatter', name: LINEAGES[k], xAxisIndex: si, yAxisIndex: si, data: pts, symbolSize: 12, silent: true, itemStyle: { color: CELL_FILL[k], borderColor: k === 0 ? '#666' : '#333', borderWidth: 0.6, opacity: 1 } });
  });

  // section letters
  ([['A', 29], ['B', 606], ['C', 911], ['D', 1521]] as [string, number][]).forEach(([t, y]) => {
    g.push({ type: 'text', x: 14, y, z: 100, style: { text: t, fontSize: 33, fontWeight: 'bold', fontFamily: FONT, fill: '#000', align: 'left', verticalAlign: 'middle' } });
  });

  // number boxes
  const numBox = (x: number, y: number, w: number, h: number, fill: string, txt: string, col: string) => {
    g.push({ type: 'rect', z: 100, shape: { x, y, width: w, height: h }, style: { fill, stroke: '#333', lineWidth: 1.2 } });
    g.push({ type: 'text', z: 101, x: x + w / 2, y: y + h / 2 + 1, style: { text: txt, fontSize: 36, fontWeight: 'bold', fontFamily: FONT, fill: col, align: 'center', verticalAlign: 'middle' } });
  };
  numBox(233, 38, 37, 48, '#e41f26', '6', '#ffffff');
  g.push({ type: 'polygon', z: 100, shape: { points: [[356, 38], [393, 38], [356, 86]] }, style: { fill: '#e41f26' } });
  g.push({ type: 'polygon', z: 100, shape: { points: [[393, 38], [393, 86], [356, 86]] }, style: { fill: '#5db537' } });
  g.push({ type: 'line', z: 100, shape: { x1: 356, y1: 86, x2: 393, y2: 38 }, style: { stroke: '#111', lineWidth: 1.5 } });
  g.push({ type: 'rect', z: 100, shape: { x: 356, y: 38, width: 37, height: 48 }, style: { fill: 'none', stroke: '#333', lineWidth: 1.2 } });
  g.push({ type: 'text', z: 101, x: 374.5, y: 63, style: { text: '7', fontSize: 36, fontWeight: 'bold', fontFamily: FONT, fill: '#ffffff', align: 'center', verticalAlign: 'middle' } });
  numBox(124, 115, 37, 47, '#ffffff', '1', '#111');
  numBox(161, 115, 37, 47, '#878787', '2', '#ffffff');
  numBox(198, 115, 37, 47, '#f3a4bf', '3', '#111');
  numBox(261, 115, 36.5, 47, '#f1e64a', '4', '#111');
  numBox(380, 115, 36.3, 47, '#36b2e7', '5', '#111');
  numBox(416.3, 115, 36.3, 47, '#35429b', '8', '#ffffff');
  numBox(452.6, 115, 36.4, 47, '#8b4399', '9', '#ffffff');

  // legend
  const colX = [586, 779.6, 970.5];
  const rowBoxY = [72.3, 164, 259.3];
  const rowTxtY = [50.5, 140.5, 235];
  LINEAGES.forEach((name, k) => {
    const c = Math.floor(k / 3);
    const r = k % 3;
    const x = colX[c];
    const w = 152.5;
    g.push({ type: 'text', z: 100, x: x + w / 2, y: rowTxtY[r], scaleX: 1.17, style: { text: name, fontSize: 20, fontWeight: 'bold', fontFamily: FONT, fill: '#111', align: 'center', verticalAlign: 'middle' } });
    g.push({ type: 'rect', z: 100, shape: { x, y: rowBoxY[r], width: w, height: 16 }, style: { fill: LEGEND_FILL[k], stroke: '#333', lineWidth: 1 } });
    g.push({ type: 'line', z: 101, shape: { x1: x + 0.8, y1: rowBoxY[r] + 8, x2: x + w - 0.8, y2: rowBoxY[r] + 8 }, style: { stroke: k === 0 ? '#ffffff' : LINE_COLORS[k], lineWidth: 3.5 } });
  });

  // axis sketch
  g.push({ type: 'line', z: 100, shape: { x1: 1237.5, y1: 256.7, x2: 1237.5, y2: 50 }, style: { stroke: '#111', lineWidth: 4.5 } });
  g.push({ type: 'polygon', z: 100, shape: { points: [[1237.5, 30], [1226, 55], [1249, 55]] }, style: { fill: '#111' } });
  g.push({ type: 'line', z: 100, shape: { x1: 1235.3, y1: 254.5, x2: 1478, y2: 254.5 }, style: { stroke: '#111', lineWidth: 4.5 } });
  g.push({ type: 'polygon', z: 100, shape: { points: [[1497, 254.5], [1472, 243], [1472, 266]] }, style: { fill: '#111' } });
  g.push({ type: 'text', z: 100, x: 1211, y: 137, rotation: Math.PI / 2, style: { text: 'Gene expression', fontSize: 30, fontFamily: 'Lato, "Open Sans", sans-serif', fill: '#1a1a1a', align: 'center', verticalAlign: 'middle' } });
  g.push({ type: 'text', z: 100, x: 1358, y: 271, style: { text: 'Pseudotime', fontSize: 30, fontFamily: 'Lato, "Open Sans", sans-serif', fill: '#1a1a1a', align: 'center', verticalAlign: 'middle' } });

  return { animation: false, backgroundColor: '#ffffff', grid, xAxis, yAxis, series, graphic: { elements: g } };
}

export default function App() {
  const ref = useRef<HTMLDivElement>(null);
  useEffect(() => {
    if (!ref.current) return;
    const chart = echarts.init(ref.current, undefined, { renderer: 'svg' });
    chart.setOption(buildOption() as any);
    return () => chart.dispose();
  }, []);
  return <div ref={ref} style={{ position: 'absolute', left: 0, top: 0, width: 1576, height: 1795 }} />;
}
